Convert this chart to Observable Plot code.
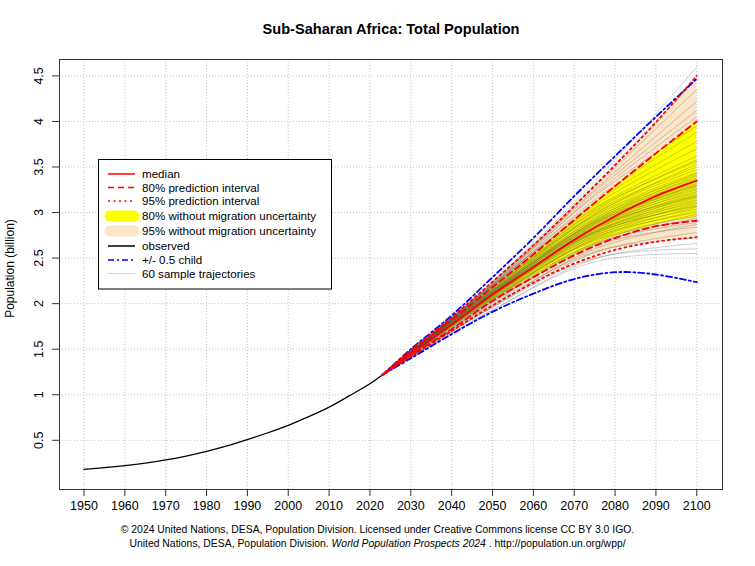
<!DOCTYPE html>
<html><head><meta charset="utf-8">
<script src="https://cdn.jsdelivr.net/npm/d3@7"></script>
<script src="https://cdn.jsdelivr.net/npm/@observablehq/plot@0.6"></script>
<style>
body{margin:0;background:#fff;font-family:"Liberation Sans",Arial,Helvetica,sans-serif;color:#000;}
#wrap{position:relative;width:755px;height:566px;overflow:hidden;}
#chart{position:absolute;left:0;top:0;}
#title{position:absolute;left:0;width:782px;top:21px;text-align:center;font-weight:bold;font-size:14.6px;}
#caption{position:absolute;left:0;width:755px;top:523px;text-align:center;font-size:10.4px;line-height:14px;}
#legend{position:absolute;left:98px;top:159px;}
</style>
</head><body>
<div id="wrap">
  <div id="chart"></div>
  <div id="title">Sub-Saharan Africa: Total Population</div>
  <div id="legend"></div>
  <div id="caption">© 2024 United Nations, DESA, Population Division. Licensed under Creative Commons license CC BY 3.0 IGO.<br>United Nations, DESA, Population Division. <i>World Population Prospects 2024</i> . http://population.un.org/wpp/</div>
</div>
<script>
// ---- data (billions) ----
const obsYears = [1950,1955,1960,1965,1970,1975,1980,1985,1990,1995,2000,2005,2010,2015,2020,2023];
const obsPop   = [0.180,0.199,0.222,0.250,0.285,0.327,0.378,0.438,0.508,0.583,0.665,0.760,0.865,0.990,1.120,1.216];

const projYears = [2023,2030,2040,2050,2060,2070,2080,2090,2100];
const median    = [1.216,1.45,1.77,2.10,2.40,2.70,2.96,3.18,3.35];
const pi80Low   = [1.216,1.43,1.72,2.03,2.29,2.53,2.72,2.85,2.91];
const pi80High  = [1.216,1.48,1.82,2.18,2.54,2.92,3.29,3.65,4.00];
const pi95Low   = [1.216,1.42,1.70,1.98,2.23,2.44,2.59,2.68,2.73];
const pi95High  = [1.216,1.49,1.85,2.24,2.64,3.07,3.52,3.99,4.50];
const halfChildLow  = [1.216,1.40,1.665,1.91,2.11,2.27,2.345,2.32,2.235];
const halfChildHigh = [1.216,1.50,1.87,2.29,2.72,3.18,3.62,4.05,4.47];
const noMig80Low  = [1.216,1.435,1.73,2.04,2.30,2.54,2.74,2.87,2.95];
const noMig80High = [1.216,1.475,1.81,2.17,2.53,2.90,3.27,3.63,4.00];
const noMig95Low  = [1.216,1.42,1.70,1.99,2.24,2.45,2.60,2.69,2.73];
const noMig95High = [1.216,1.49,1.85,2.23,2.63,3.05,3.50,3.98,4.50];

// 60 sample trajectories: values at 2050, 2075, 2100 (start 2023 at last observed)
const trajYears = [2023,2050,2075,2100];
const traj2050 = [1.93,1.96,1.93,1.99,1.96,2.02,1.97,2.04,2.05,2.00,
                  2.06,2.02,2.08,2.05,2.09,2.04,2.10,2.06,2.11,2.07,
                  2.12,2.08,2.12,2.07,2.13,2.09,2.14,2.10,2.13,2.08,
                  2.14,2.11,2.15,2.10,2.16,2.12,2.17,2.11,2.16,2.13,
                  2.18,2.15,2.14,2.12,2.15,2.19,2.13,2.20,2.16,2.21,
                  2.18,2.20,2.19,2.21,2.20,2.22,2.21,2.23,2.22,2.24];
const traj2075 = [2.46,2.50,2.49,2.57,2.56,2.64,2.60,2.66,2.69,2.65,
                  2.70,2.67,2.73,2.71,2.75,2.72,2.77,2.74,2.79,2.76,
                  2.80,2.78,2.82,2.79,2.83,2.81,2.85,2.83,2.87,2.84,
                  2.88,2.86,2.90,2.88,2.92,2.90,2.94,2.91,2.96,2.93,
                  2.97,2.89,2.84,2.78,2.99,3.01,2.98,3.04,3.02,3.05,
                  3.08,3.11,3.14,3.18,3.20,3.23,3.25,3.28,3.31,3.34];
const traj2100 = [2.55,2.60,2.66,2.72,2.78,2.84,2.87,2.89,2.92,2.94,
                  2.96,2.98,3.00,3.02,3.04,3.06,3.08,3.10,3.11,3.13,
                  3.14,3.16,3.17,3.19,3.20,3.22,3.23,3.25,3.26,3.28,
                  3.29,3.31,3.32,3.34,3.35,3.37,3.38,3.40,3.41,3.43,
                  3.44,3.30,3.18,3.07,3.47,3.50,3.53,3.56,3.58,3.62,
                  3.70,3.78,3.88,3.95,4.05,4.12,4.22,4.35,4.47,4.60];

const xTicks = [1950,1960,1970,1980,1990,2000,2010,2020,2030,2040,2050,2060,2070,2080,2090,2100];
const yTicks = [0.5,1,1.5,2,2.5,3,3.5,4,4.5];
const yTickLabels = ["0.5","1","1.5","2","2.5","3","3.5","4","4.5"];

const legendLabels = ["median","80% prediction interval","95% prediction interval",
  "80% without migration uncertainty","95% without migration uncertainty",
  "observed","+/- 0.5 child","60 sample trajectories"];

// ---- build tables ----
const observed = obsYears.map((y,i)=>({year:y, pop:obsPop[i]}));
const proj = projYears.map((y,i)=>({year:y, median:median[i], l80:pi80Low[i], h80:pi80High[i],
  l95:pi95Low[i], h95:pi95High[i], lc:halfChildLow[i], hc:halfChildHigh[i],
  nl80:noMig80Low[i], nh80:noMig80High[i], nl95:noMig95Low[i], nh95:noMig95High[i]}));
const traj = [];
traj2100.forEach((v,i)=>{
  const vals = [obsPop[obsPop.length-1], traj2050[i], traj2075[i], v];
  trajYears.forEach((y,j)=>traj.push({id:i, year:y, pop:vals[j]}));
});

const cr = "catmull-rom";
const lw = 1.8;
const chart = Plot.plot({
  width:755, height:566,
  marginLeft:59, marginRight:33, marginTop:59, marginBottom:77,
  x:{domain:[1944,2106.3], axis:null},
  y:{domain:[-0.04,4.68], axis:null},
  style:{fontFamily:"'Liberation Sans', Arial, sans-serif", fontSize:"12px", background:"transparent", color:"#000"},
  marks:[
    Plot.gridX(xTicks, {stroke:"#c4c4c4", strokeOpacity:1, strokeDasharray:"1,2"}),
    Plot.gridY(yTicks, {stroke:"#c4c4c4", strokeOpacity:1, strokeDasharray:"1,2"}),
    Plot.areaY(proj, {x:"year", y1:"nl95", y2:"nh95", fill:"#fde5c8", curve:cr}),
    Plot.areaY(proj, {x:"year", y1:"nl80", y2:"nh80", fill:"#ffff00", curve:cr}),
    Plot.line(traj, {x:"year", y:"pop", z:"id", stroke:"#4a4a4a", strokeOpacity:0.27, strokeWidth:1, curve:cr}),
    Plot.line(observed, {x:"year", y:"pop", stroke:"#000", strokeWidth:1.3, curve:cr}),
    Plot.line(proj, {x:"year", y:"lc", stroke:"#0000ff", strokeWidth:lw, strokeDasharray:"6,3,2,3", curve:cr}),
    Plot.line(proj, {x:"year", y:"hc", stroke:"#0000ff", strokeWidth:lw, strokeDasharray:"6,3,2,3", curve:cr}),
    Plot.line(proj, {x:"year", y:"l95", stroke:"#ff0000", strokeWidth:lw, strokeDasharray:"2,3.5", curve:cr}),
    Plot.line(proj, {x:"year", y:"h95", stroke:"#ff0000", strokeWidth:lw, strokeDasharray:"2,3.5", curve:cr}),
    Plot.line(proj, {x:"year", y:"l80", stroke:"#ff0000", strokeWidth:lw, strokeDasharray:"6,4", curve:cr}),
    Plot.line(proj, {x:"year", y:"h80", stroke:"#ff0000", strokeWidth:lw, strokeDasharray:"6,4", curve:cr}),
    Plot.line(proj, {x:"year", y:"median", stroke:"#ff0000", strokeWidth:lw, curve:cr}),
    Plot.frame({stroke:"#333", strokeWidth:1}),
    Plot.axisX(xTicks, {tickSize:7, tickPadding:5, tickFormat:"d", fontSize:12.5, stroke:"#333", label:null}),
    Plot.axisY(yTicks, {tickSize:7, tickFormat:()=>"", stroke:"#333", label:null}),
    Plot.text(yTicks, {y:d=>d, text:(d,i)=>yTickLabels[i], frameAnchor:"left", textAnchor:"middle", rotate:-90, dx:-21, fontSize:12.5}),
    Plot.text(["Population (billion)"], {frameAnchor:"left", textAnchor:"middle", rotate:-90, dx:-49, dy:-6, fontSize:12})
  ]
});
document.getElementById("chart").appendChild(chart);

// ---- legend (HTML/SVG box) ----
const ns = "http://www.w3.org/2000/svg";
const lg = document.createElementNS(ns, "svg");
lg.setAttribute("width", 235); lg.setAttribute("height", 131);
lg.style.fontFamily = "'Liberation Sans', Arial, sans-serif";
const rowsY = [15,28.5,42,57,72,87,101,114.5];
const sw = [
  {stroke:"#ff0000", w:1.5, dash:null},
  {stroke:"#ff0000", w:1.5, dash:"6,4"},
  {stroke:"#ff0000", w:1.5, dash:"2,3.5"},
  {stroke:"#ffff00", w:11, dash:null, cap:"round"},
  {stroke:"#fde5c8", w:11, dash:null, cap:"round"},
  {stroke:"#000", w:1.5, dash:null},
  {stroke:"#0000ff", w:1.5, dash:"6,3,2,3"},
  {stroke:"#d3d3d3", w:1, dash:null}
];
const rect = document.createElementNS(ns,"rect");
rect.setAttribute("x",0.5); rect.setAttribute("y",0.5); rect.setAttribute("width",233); rect.setAttribute("height",129.5);
rect.setAttribute("fill","#fff"); rect.setAttribute("stroke","#000");
lg.appendChild(rect);
legendLabels.forEach((lab,i)=>{
  const s = sw[i], ln = document.createElementNS(ns,"line");
  ln.setAttribute("x1", s.cap ? 12 : 10); ln.setAttribute("x2", s.cap ? 36 : 37);
  ln.setAttribute("y1", rowsY[i]); ln.setAttribute("y2", rowsY[i]);
  ln.setAttribute("stroke", s.stroke); ln.setAttribute("stroke-width", s.w);
  if (s.dash) ln.setAttribute("stroke-dasharray", s.dash);
  if (s.cap) ln.setAttribute("stroke-linecap", "round");
  lg.appendChild(ln);
  const t = document.createElementNS(ns,"text");
  t.setAttribute("x",44); t.setAttribute("y",rowsY[i]); t.setAttribute("dy","0.35em");
  t.setAttribute("font-size","11.6px"); t.textContent = lab;
  lg.appendChild(t);
});
document.getElementById("legend").appendChild(lg);
</script>
</body></html>
